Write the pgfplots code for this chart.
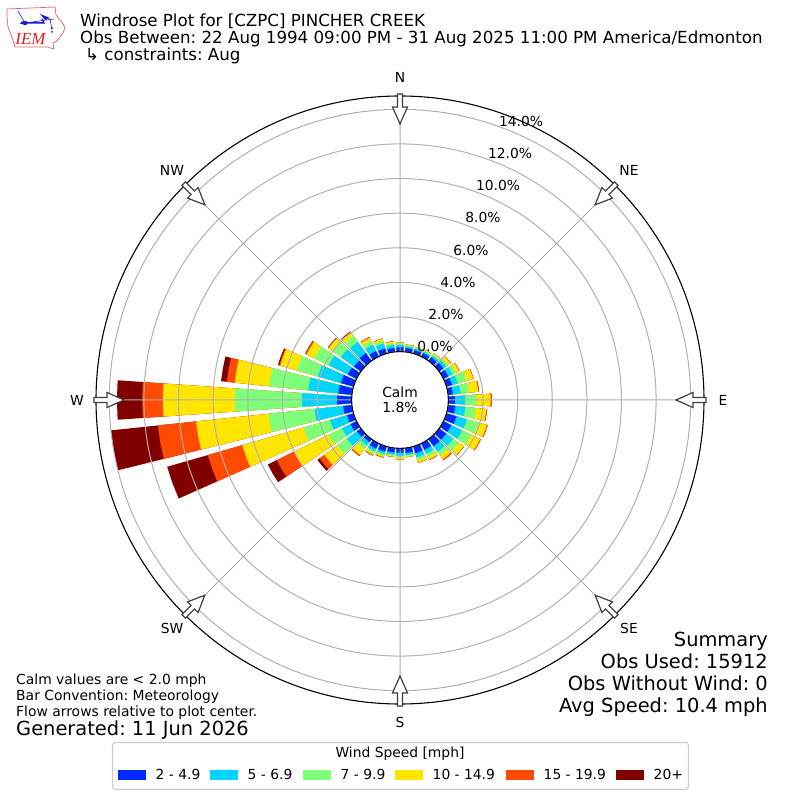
\documentclass[border=0pt]{standalone}
\usepackage{pgfplots}
\usepackage{pgfplotstable}
\usepackage{fontspec}
\usepgfplotslibrary{polar}
\pgfplotsset{compat=1.18}
\setmainfont{DejaVu Sans}
\definecolor{wone}{HTML}{0029FF}
\definecolor{wtwo}{HTML}{00D5FF}
\definecolor{wthree}{HTML}{7DFF7A}
\definecolor{wfour}{HTML}{FFE600}
\definecolor{wfive}{HTML}{FF4A00}
\definecolor{wsix}{HTML}{800000}
\definecolor{gridc}{HTML}{B0B0B0}
\definecolor{logob}{HTML}{1A1AD0}
\definecolor{logor}{HTML}{D82020}
\newcommand\fs[1]{\fontsize{#1}{#1}\selectfont}
% cumulative percentage at the top of each speed class, by direction
\pgfplotstableread{
dir  c1   c2   c3   c4    c5    c6
0    .25  .38  .47  .53   .54   .54
10   .22  .32  .38  .42   .43   .43
20   .20  .30  .36  .38   .39   .39
30   .22  .32  .38  .43   .44   .44
40   .25  .38  .46  .54   .55   .55
50   .30  .50  .62  .80   .83   .83
60   .30  .58  .80  1.00  1.03  1.03
70   .33  .67  1.20 1.60  1.63  1.63
80   .27  .72  1.20 1.75  1.80  1.80
90   .38  .96  1.63 2.44  2.50  2.50
100  .42  1.00 1.60 2.22  2.27  2.27
110  .60  1.22 1.92 2.42  2.47  2.47
120  .50  1.20 1.77 2.35  2.40  2.40
130  .50  1.00 1.40 1.75  1.78  1.78
140  .50  .90  1.15 1.42  1.50  1.50
150  .40  .65  .85  1.03  1.07  1.07
160  .40  .65  .80  .96   .98   .98
170  .28  .40  .47  .52   .53   .53
180  .25  .42  .52  .62   .64   .64
190  .25  .38  .45  .50   .52   .52
200  .30  .45  .55  .63   .67   .67
210  .33  .50  .62  .73   .78   .78
220  .20  .45  .70  1.12  1.20  1.20
230  .27  1.00 1.69 2.60  2.95  3.10
240  .38  .93  1.77 4.02  5.12  5.70
250  .38  1.40 2.98 6.68  8.76  11.20
260  .50  2.17 4.83 9.05  11.27 14.00
270  .84  2.87 6.74 10.90 12.10 13.56
280  .78  2.53 4.79 6.80  7.26  7.60
290  .75  2.13 3.39 4.40  4.47  4.54
300  .55  1.78 2.70 3.20  3.27  3.30
310  .48  1.42 2.00 2.30  2.33  2.36
320  .55  1.35 1.77 2.03  2.07  2.10
330  .35  .75  1.00 1.20  1.25  1.25
340  .30  .60  .75  .88   .90   .90
350  .22  .40  .50  .60   .62   .62
}\rose
% one wedge: colour, column, row
\newcommand\roseWedge[3]{%
  \pgfplotstablegetelem{#3}{dir}\of\rose
  \pgfmathsetmacro\tmid{90-\pgfplotsretval}%
  \pgfplotstablegetelem{#3}{#2}\of\rose
  \pgfmathsetmacro\rh{\pgfplotsretval+2.8}%
  \pgfmathsetmacro\ta{\tmid-4}\pgfmathsetmacro\tb{\tmid+4}%
  \edef\tmp{\noexpand\addplot[draw=none,fill=#1,forget plot] coordinates
    {(\ta,2.6) (\tb,2.6) (\tb,\rh) (\tmid,\rh) (\ta,\rh)} -- cycle;}\tmp
}
\begin{document}
\frenchspacing
\begin{tikzpicture}
\path[use as bounding box] (0,0) rectangle (800bp,800bp);
\begin{polaraxis}[
  at={(96bp,96bp)},anchor=south west,
  scale only axis,width=608bp,height=608bp,
  xmin=0,xmax=360,ymin=0,ymax=17.57,
  axis on top,clip=false,
  xtick={0,45,90,135,180,225,270,315},
  xticklabels={},
  ytick={2.8,4.8,6.8,8.8,10.8,12.8,14.8,16.8},
  yticklabels={},
  grid=major,
  major tick length=0pt,
  grid style={color=gridc,line width=1bp},
  axis line style={black,line width=1.1bp},
  y axis line style={draw=none},
]
\pgfplotsforeachungrouped \i in {0,...,35}{
  \roseWedge{wsix}{c6}{\i}
  \roseWedge{wfive}{c5}{\i}
  \roseWedge{wfour}{c4}{\i}
  \roseWedge{wthree}{c3}{\i}
  \roseWedge{wtwo}{c2}{\i}
  \roseWedge{wone}{c1}{\i}
}
\end{polaraxis}
\begin{scope}[shift={(0,800bp)},x=1bp,y=-1bp]
  % centre
  \draw[black,fill=white,line width=1.1bp] (400,400) circle [radius=48.4];
  \node[font=\fs{13.9},align=center] at (400,400) {Calm\\[1pt]1.8\%};
  % compass labels
  \foreach \lab/\xx/\yy in {N/400/77,NE/629/170,E/723/400,SE/629/628,S/400/722,SW/172/628,W/77/400,NW/172/170}
    \node[font=\fs{13.9},inner sep=0] at (\xx,\yy) {\lab};
  % radial labels
  \foreach \lab/\xx/\yy in {0.0/435/346,2.0/446/314,4.0/458/282,6.0/471/250,8.0/483/217,10.0/498/185,12.0/510/153,14.0/521/121}
    \node[font=\fs{13.9},inner sep=0] at (\xx,\yy) {\lab\%};
  % flow arrows
  \foreach \a in {0,45,...,315}
    \draw[black!75,fill=white,line width=1.2bp,shift={(400,400)},rotate=\a]
      (-2.5,-306) -- (2.5,-306) -- (2.5,-293) -- (7.5,-293) -- (0,-276) -- (-7.5,-293) -- (-2.5,-293) -- cycle;
  % titles
  \node[anchor=base west,inner sep=0,font=\fs{16.72}] at (80,26.5) {Windrose Plot for [CZPC] PINCHER CREEK};
  \node[anchor=base west,inner sep=0,font=\fs{16.72}] at (80,43.5) {Obs Between: 22 Aug 1994 09:00 PM - 31 Aug 2025 11:00 PM America/Edmonton};
  \node[anchor=base west,inner sep=0,font=\fs{16.72}] at (85,61) {↳ constraints: Aug};
  % notes
  \node[anchor=base west,inner sep=0,font=\fs{13.95}] at (16,685) {Calm values are < 2.0 mph};
  \node[anchor=base west,inner sep=0,font=\fs{13.95}] at (16,701) {Bar Convention: Meteorology};
  \node[anchor=base west,inner sep=0,font=\fs{13.95}] at (16,717) {Flow arrows relative to plot center.};
  \node[anchor=base west,inner sep=0,font=\fs{19.5}] at (16,736) {Generated: 11 Jun 2026};
  \node[anchor=base east,inner sep=0,font=\fs{19.5}] at (768,647) {Summary};
  \node[anchor=base east,inner sep=0,font=\fs{19.5}] at (768,669) {Obs Used: 15912};
  \node[anchor=base east,inner sep=0,font=\fs{19.5}] at (768,691) {Obs Without Wind: 0};
  \node[anchor=base east,inner sep=0,font=\fs{19.5}] at (768,713) {Avg Speed: 10.4 mph};
  % legend
  \draw[black!20,line width=1.1bp,rounded corners=3,fill=white] (112.5,742.5) rectangle (688.5,789.5);
  \node[font=\fs{13.9},inner sep=0] at (400,753.5) {Wind Speed [mph]};
  \foreach \c/\xx/\lab in {wone/118/2 - 4.9,wtwo/210/5 - 6.9,wthree/303/7 - 9.9,wfour/395/10 - 14.9,wfive/506/15 - 19.9,wsix/616/20+}{
    \fill[\c] (\xx,770) rectangle ++(28,10);
    \node[anchor=base west,inner sep=0,font=\fs{13.9}] at (\xx+37.5,780) {\lab};
  }
  % logo
  \draw[logor!70!white,line width=.7bp,line join=round]
    (7,9) -- (55,7) -- (56,15) -- (62,22) -- (65,28) -- (63,33) -- (57,41) -- (53,43) -- (54,49) -- (47,47) -- (15,47) -- (13,40) -- (8,27) -- (7,17) -- cycle;
  \draw[logob,line width=.6bp] (18,11) -- (25,23) (25,23) -- (54,19) (50,19) -- (52,30);
  \draw[logob,line width=1.5bp] (25,23) -- (44,23) -- (42,19);
  \fill[logob] (25,23) circle [radius=2.3] (40,14) -- (50,18) -- (45,20) -- cycle (20,24) -- (22,21) -- (24,24) -- cycle (52,28) circle[radius=1] (52,32) circle[radius=1];
  \node[text=logor,inner sep=0] at (30.5,38.5) {\fontspec{Liberation Serif}\fs{17}\itshape IEM};
\end{scope}
\end{tikzpicture}
\end{document}
